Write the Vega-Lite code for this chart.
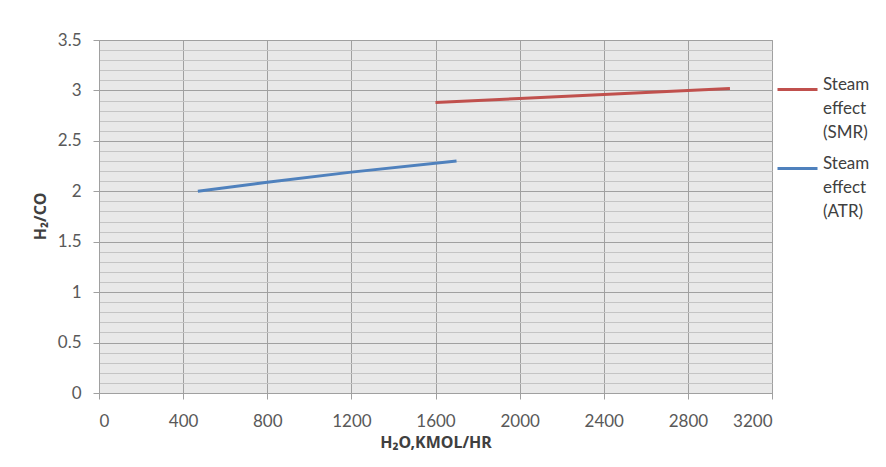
{
  "$schema": "https://vega.github.io/schema/vega-lite/v6.json",
  "width": 673,
  "height": 353,
  "autosize": "none",
  "padding": {"left": 99, "top": 40, "right": 114, "bottom": 74},
  "background": "white",
  "config": {
    "font": "Lato",
    "view": {"fill": "#e8e8e8", "stroke": "#a6a6a6", "strokeWidth": 1},
    "axis": {"labelFont": "Lato", "titleFont": "Noto Sans"},
    "style": {"guide-label": {"lineHeight": 24}}
  },
  "data": {
    "values": [
      {"series": "Steam effect (SMR)", "h2o": 1600, "ratio": 2.88},
      {"series": "Steam effect (SMR)", "h2o": 2000, "ratio": 2.92},
      {"series": "Steam effect (SMR)", "h2o": 2400, "ratio": 2.96},
      {"series": "Steam effect (SMR)", "h2o": 2800, "ratio": 3.0},
      {"series": "Steam effect (SMR)", "h2o": 3000, "ratio": 3.02},
      {"series": "Steam effect (ATR)", "h2o": 470, "ratio": 2.0},
      {"series": "Steam effect (ATR)", "h2o": 800, "ratio": 2.09},
      {"series": "Steam effect (ATR)", "h2o": 1200, "ratio": 2.19},
      {"series": "Steam effect (ATR)", "h2o": 1700, "ratio": 2.3}
    ]
  },
  "layer": [
    {
      "mark": {"type": "line", "opacity": 0},
      "encoding": {
        "x": {
          "field": "h2o", "type": "quantitative",
          "scale": {"domain": [0, 3200]},
          "axis": {
            "values": [0,400,800,1200,1600,2000,2400,2800,3200],
            "format": "d",
            "grid": true, "gridColor": "#a0a0a0", "gridWidth": 1,
            "domainColor": "#a0a0a0", "tickColor": "#a0a0a0", "tickSize": 6,
            "labelFontSize": 17, "labelColor": "#595959", "labelPadding": 14,
            "title": "H₂O,KMOL/HR", "titleFontSize": 16, "titleFontWeight": "bold", "titleColor": "#404040",
            "titleY": 49, "titleBaseline": "middle"
          }
        },
        "y": {
          "field": "ratio", "type": "quantitative", "scale": {"domain": [0, 3.5]},
          "axis": {
            "orient": "left",
            "values": [0.1,0.2,0.3,0.4,0.6,0.7,0.8,0.9,1.1,1.2,1.3,1.4,1.6,1.7,1.8,1.9,2.1,2.2,2.3,2.4,2.6,2.7,2.8,2.9,3.1,3.2,3.3,3.4],
            "grid": true, "gridColor": "#c4c4c4", "gridWidth": 1,
            "labels": false, "ticks": false, "domain": false, "title": null
          }
        }
      }
    },
    {
      "mark": {"type": "line", "strokeWidth": 3},
      "encoding": {
        "x": {
          "field": "h2o", "type": "quantitative",
          "scale": {"domain": [0, 3200]},
          "axis": {
            "values": [0,400,800,1200,1600,2000,2400,2800,3200],
            "format": "d",
            "grid": true, "gridColor": "#a0a0a0", "gridWidth": 1,
            "domainColor": "#a0a0a0", "tickColor": "#a0a0a0", "tickSize": 6,
            "labelFontSize": 17, "labelColor": "#595959", "labelPadding": 14,
            "title": "H₂O,KMOL/HR", "titleFontSize": 16, "titleFontWeight": "bold", "titleColor": "#404040",
            "titleY": 49, "titleBaseline": "middle"
          }
        },
        "y": {
          "field": "ratio", "type": "quantitative",
          "scale": {"domain": [0, 3.5]},
          "axis": {
            "orient": "left",
            "values": [0,0.5,1,1.5,2,2.5,3,3.5],
            "labelExpr": "datum.value",
            "grid": true, "gridColor": "#a0a0a0", "gridWidth": 1,
            "domainColor": "#a0a0a0", "tickColor": "#a0a0a0", "tickSize": 6,
            "labelFontSize": 17, "labelColor": "#595959", "labelPadding": 12,
            "title": "H₂/CO", "titleFontSize": 16, "titleFontWeight": "bold", "titleColor": "#404040",
            "titleX": -59, "titleY": 176, "titleBaseline": "middle", "titleAngle": -90
          }
        },
        "color": {
          "field": "series", "type": "nominal",
          "scale": {"domain": ["Steam effect (SMR)", "Steam effect (ATR)"], "range": ["#c0504d", "#4f81bd"]},
          "legend": {
            "title": null, "orient": "none", "legendX": 677, "legendY": 28,
            "symbolType": "stroke", "symbolSize": 1600, "symbolStrokeWidth": 3,
            "labelExpr": "split(datum.label, ' ')",
            "labelFontSize": 17, "labelColor": "#404040", "labelFont": "Lato",
            "labelBaseline": "alphabetic", "labelOffset": 4,
            "rowPadding": 6, "labelLimit": 200
          }
        }
      }
    }
  ],
  "resolve": {"axis": {"y": "independent"}}
}
